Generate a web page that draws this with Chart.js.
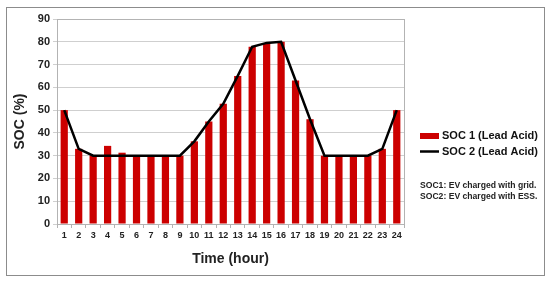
<!DOCTYPE html>
<html>
<head>
<meta charset="utf-8">
<script src="https://cdn.jsdelivr.net/npm/chart.js@4.4.1/dist/chart.umd.min.js"></script>
<style>
  html, body { margin: 0; padding: 0; background: #fff; }
  #wrap { width: 550px; height: 284px; position: relative; }
</style>
</head>
<body>
<div id="wrap"><canvas id="ch"></canvas></div>
<script>
// ── Datos ────────────────────────────────────────────────
const hours = ['1','2','3','4','5','6','7','8','9','10','11','12','13','14','15','16','17','18','19','20','21','22','23','24'];
const soc1  = [50, 33, 30, 34.3, 31.3, 30, 30, 30, 30, 36.3, 45, 52.8, 65, 77.8, 79.5, 80, 63, 46, 30, 30, 30, 30, 33, 50];
const soc2  = [50, 33, 30, 30, 30, 30, 30, 30, 30, 36.3, 45, 52.8, 65, 77.8, 79.5, 80, 63, 46, 30, 30, 30, 30, 33, 50];
const yTicks = [0, 10, 20, 30, 40, 50, 60, 70, 80, 90];
const notes = ['SOC1: EV charged with grid.', 'SOC2: EV charged with ESS.'];

const FONT = '"Liberation Sans", Arial, sans-serif';
const RED = '#cc0000';

// marco exterior, borde del area y leyenda a la derecha
const decor = {
    id: 'decor',
    beforeDraw(chart) {
        const c = chart.ctx;
        c.save();
        c.fillStyle = '#fff';
        c.fillRect(0, 0, chart.width, chart.height);
        c.restore();
    },
    afterDraw(chart) {
        const c = chart.ctx, a = chart.chartArea;
        c.save();
        c.strokeStyle = '#8c8c8c';
        c.lineWidth = 1;
        c.strokeRect(6.5, 7.5, 538, 268);
        c.strokeStyle = '#b3b3b3';
        c.strokeRect(a.left + 0.5, a.top + 0.5, a.right - a.left, a.bottom - a.top);

        const ds = chart.data.datasets;
        const barDs = ds.find(d => d.type === 'bar');
        const lineDs = ds.find(d => d.type === 'line');
        c.font = 'bold 11px ' + FONT;
        c.textBaseline = 'middle';
        // entrada barra
        c.fillStyle = RED;
        c.fillRect(420, 133, 19, 6);
        c.fillStyle = '#111';
        c.fillText(barDs.label, 442, 136);
        // entrada linea
        c.strokeStyle = '#000';
        c.lineWidth = 2.5;
        c.beginPath();
        c.moveTo(420, 151.5);
        c.lineTo(439, 151.5);
        c.stroke();
        c.fillText(lineDs.label, 442, 151.5);
        // notas
        c.font = 'bold 8.6px ' + FONT;
        c.fillStyle = '#222';
        notes.forEach((t, i) => c.fillText(t, 420, 186 + i * 10.5));
        c.restore();
    },
};

new Chart(document.getElementById('ch'), {
    data: {
        labels: hours,
        datasets: [
            { type: 'line', label: 'SOC 2 (Lead Acid)', data: soc2, borderColor: '#000', borderWidth: 2.5,
              pointRadius: 0, tension: 0, order: 0 },
            { type: 'bar', label: 'SOC 1 (Lead Acid)', data: soc1, backgroundColor: RED,
              barPercentage: 0.5, categoryPercentage: 1, order: 1 },
        ],
    },
    options: {
        responsive: true, maintainAspectRatio: false, animation: false,
        layout: { padding: { top: 19, right: 146, left: 0, bottom: 0 } },
        plugins: { legend: { display: false }, tooltip: { enabled: false } },
        scales: {
            x: {
                offset: true,
                grid: { drawOnChartArea: false, offset: true, color: '#b3b3b3', tickLength: 4 },
                border: { color: '#b3b3b3' },
                ticks: { color: '#222', font: { family: FONT, size: 9, weight: 'bold' }, padding: 2, maxRotation: 0, autoSkip: false },
                title: { display: true, text: 'Time (hour)', color: '#222', font: { family: FONT, size: 14, weight: 'bold' }, padding: { top: 8, bottom: 16 } },
                afterFit: s => { s.height = 60; },
            },
            y: {
                min: 0, max: 90,
                afterBuildTicks: s => { s.ticks = yTicks.map(v => ({ value: v })); },
                grid: { color: '#cfcfcf', tickLength: 4 },
                border: { color: '#b3b3b3' },
                ticks: { color: '#222', font: { family: FONT, size: 11, weight: 'bold' }, padding: 3 },
                title: { display: true, text: 'SOC (%)', color: '#222', font: { family: FONT, size: 14, weight: 'bold' }, padding: { top: 12, bottom: 6 } },
                afterFit: s => { s.width = 57; },
            },
        },
    },
    plugins: [decor],
});
</script>
</body>
</html>
